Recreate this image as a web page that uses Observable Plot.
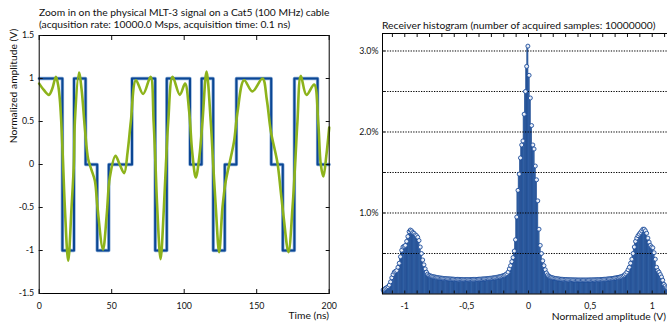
<!DOCTYPE html>
<html><head><meta charset="utf-8">
<script src="https://cdn.jsdelivr.net/npm/d3@7"></script>
<script src="https://cdn.jsdelivr.net/npm/@observablehq/plot@0.6"></script>
<style>
html,body{margin:0;padding:0;background:#fff;}
#wrap{position:relative;width:667px;height:323px;overflow:hidden;font-family:Lato,"Open Sans",sans-serif;color:#111;}
#wrap svg{position:absolute;top:0;overflow:visible;}
.t{position:absolute;font-size:10.3px;white-space:nowrap;line-height:12px;}
</style></head><body><div id="wrap"></div>
<script>
// ---------- left chart data ----------
const bitTimes  = [0,16,24,32,40,48,64,80,88,104,112,120,128,136,160,168,176,192,200];
const bitLevels = [1,-1,1,0,-1,0,1,-1,1,0,1,-1,0,1,0,-1,1,0,0];
const rxTime = [0,3,6.7,9,11.5,13,14.2,15.2,16.5,17.7,20,22.3,23.9,24.6,27.4,29.2,31.5,33.8,36,38.4,40.2,44,46.5,48.7,52.6,55.5,58.6,61,63.2,66.7,71.7,76.8,78.9,80.2,81.4,83.7,86,87.4,89,92,97,100.6,103.4,105.5,108,110.5,112.6,115.4,118.3,120,121.8,124.1,126.4,128.7,132.1,134.4,136.7,141.3,147,154,157,159.7,164.3,166.5,168.5,171.9,174.7,176.5,178.1,180.4,184.3,189.6,192.4,194.2,196,198,200];
const rxAmp  = [0.94,0.87,0.81,0.88,1.02,0.93,0.76,0.5,0,-0.5,-1.12,-0.5,0,0.5,1.07,0.88,0.42,0.06,-0.06,-0.19,-0.5,-0.99,-0.6,-0.15,0.10,0.0,-0.10,0.15,0.5,0.98,0.82,1.02,0.5,0,-0.5,-1.10,-0.5,0,0.5,1.02,0.81,0.94,0.62,0.15,-0.15,0.1,0.5,1.08,0.5,0,-0.5,-1.02,-0.5,-0.19,0.08,0.27,0.6,0.98,0.85,1.0,0.75,0.39,0.02,-0.3,-0.6,-1.02,-0.5,0,0.5,1.03,0.81,0.93,0.5,0,-0.14,0.1,0.43];
const timeTicks = [0,50,100,150,200];
const ampTicks = [-1.5,-1,-0.5,0,0.5,1,1.5];

// ---------- right chart data ----------
const histStart = -1.175, histBinWidth = 0.01;
const histPercent = [
 0.05,0.06,0.07,0.08,0.09,0.11,0.15,0.20,0.24,0.27,0.28,0.29,0.33,0.38,0.46,0.54,0.58,0.59,0.60,0.65,
 0.71,0.77,0.79,0.78,0.76,0.75,0.73,0.72,0.70,0.66,0.58,0.50,0.42,0.36,0.31,0.27,0.245,0.23,0.225,0.22,
 0.215,0.212,0.21,
 0.205,0.203,0.2,0.198,0.196,0.194,0.192,0.19,0.189,0.188,
 0.187,0.186,0.185,0.184,0.183,0.182,0.181,0.181,0.18,0.18,
 0.179,0.179,0.178,0.178,0.178,0.178,0.178,0.178,0.179,0.179,
 0.18,0.18,0.181,0.181,0.182,0.183,0.184,0.185,0.186,0.187,
 0.188,0.19,0.191,0.193,0.195,0.197,0.199,0.201,0.204,0.207,
 0.21,0.213,0.217,0.221,0.226,0.232,0.24,0.25,
 0.27,0.31,0.35,0.40,0.45,0.53,0.67,0.95,1.28,1.48,1.68,1.84,1.89,2.22,2.50,2.81,3.06,
 2.70,2.42,2.08,1.84,1.79,1.58,1.41,1.15,0.80,0.60,0.50,0.41,0.35,0.30,0.26,0.235,0.22,0.21,0.205,0.2,
 0.196,0.193,0.19,0.188,0.186,0.184,0.182,0.181,0.18,0.179,
 0.178,0.177,0.176,0.176,0.175,0.175,0.174,0.174,0.174,0.173,
 0.173,0.173,0.173,0.173,0.173,0.173,0.173,0.173,0.173,0.174,
 0.174,0.174,0.175,0.175,0.176,0.176,0.177,0.178,0.179,0.18,
 0.181,0.182,0.183,0.185,0.186,0.188,0.19,0.192,0.194,0.196,
 0.199,0.202,0.205,0.208,0.212,
 0.217,0.225,0.235,0.25,0.27,0.30,0.33,0.38,0.43,0.50,
 0.58,0.65,0.69,0.72,0.74,0.76,0.78,0.80,0.80,0.78,
 0.75,0.69,0.64,0.60,0.58,0.57,0.51,0.43,0.33,0.29,
 0.27,0.24,0.21,0.17,0.12,0.10,0.08,0.07,0.06,0.05,
 0.05,0.04,0.04];
const histXTicks = [-1,-0.5,0,0.5,1];
const histMinorTicks = [-1.1,-1,-0.9,-0.8,-0.7,-0.6,-0.5,-0.4,-0.3,-0.2,-0.1,0,0.1,0.2,0.3,0.4,0.5,0.6,0.7,0.8,0.9,1,1.1];
const histGrid = [0.5,1,1.5,2,2.5,3];

// ---------- build ----------
const wrap = document.getElementById("wrap");
const font = 'Lato, "Open Sans", sans-serif';
const blue = "#0b4694", green = "#8db31b";

const bits = bitTimes.map((t,i)=>({t, v: bitLevels[i]}));
const rx = rxTime.map((t,i)=>({t, v: rxAmp[i]}));
const fmtL = d => String(d);

const left = Plot.plot({
  width: 340, height: 323,
  marginLeft: 38.7, marginRight: 11.3, marginTop: 35, marginBottom: 30,
  style: {fontFamily: font, fontSize: "8.8px", color: "#111", background: "transparent"},
  x: {domain: [0,200]},
  y: {domain: [-1.5,1.5]},
  marks: [
    Plot.line(bits, {x:"t", y:"v", curve:"step-after", stroke:"#8fb0d8", strokeWidth:3.4}),
    Plot.line(bits, {x:"t", y:"v", curve:"step-after", stroke:blue, strokeWidth:2}),
    Plot.line(rx, {x:"t", y:"v", curve:"catmull-rom", stroke:green, strokeWidth:2.6}),
    Plot.frame({stroke:"#000", strokeWidth:1}),
    Plot.axisX(timeTicks, {anchor:"bottom", tickSize:0, tickPadding:9, tickFormat: fmtL, label:null}),
    Plot.axisX(timeTicks, {anchor:"bottom", tickSize:-4, tickFormat: () => "", label:null}),
    Plot.axisX(timeTicks, {anchor:"top", tickSize:-4, tickFormat: () => "", label:null}),
    Plot.axisY(ampTicks, {anchor:"left", tickSize:0, tickPadding:5, tickFormat: fmtL, label:null}),
    Plot.axisY(ampTicks, {anchor:"left", tickSize:-4, tickFormat: () => "", label:null}),
    Plot.axisY(ampTicks, {anchor:"right", tickSize:-4, tickFormat: () => "", label:null})
  ]
});
left.style.left = "0px";
wrap.appendChild(left);

const hist = histPercent.map((p,i)=>({c: histStart + i*histBinWidth, p}));
const right = Plot.plot({
  width: 345, height: 323,
  marginLeft: 42, marginRight: 11, marginTop: 33, marginBottom: 29.5,
  style: {fontFamily: font, fontSize: "8.8px", color: "#111", background: "transparent"},
  x: {domain: [-1.18, 1.18]},
  y: {domain: [0, 3.216]},
  marks: [
    Plot.rectY(hist, {x1: d => d.c - histBinWidth/2, x2: d => d.c + histBinWidth/2, y: "p", fill:"#3d6cae", stroke:"#0e3d86", strokeWidth:0.5}),
    Plot.ruleY(histGrid, {stroke:"#000", strokeWidth:1, strokeDasharray:"1.3,1.3"}),
    Plot.dot(hist, {x:"c", y:"p", r:2, stroke:"#1c4c9a", fill:"#e8eef8", strokeWidth:0.9}),
    Plot.frame({stroke:"#000", strokeWidth:1}),
    Plot.axisX(histXTicks, {anchor:"bottom", tickSize:0, tickPadding:9, tickFormat: d => String(d).replace(".", ","), label:null}),
    Plot.axisX(histMinorTicks, {anchor:"bottom", tickSize:-3, tickFormat: () => "", label:null}),
    Plot.axisX(histMinorTicks, {anchor:"top", tickSize:-3, tickFormat: () => "", label:null}),
    Plot.axisY(histGrid, {anchor:"left", tickSize:0, tickPadding:4, tickFormat: d => Number.isInteger(d) ? d.toFixed(1) + "%" : "", label:null}),
    Plot.axisY(histGrid, {anchor:"left", tickSize:-3, tickFormat: () => "", label:null})
  ]
});
right.style.left = "340px";
wrap.appendChild(right);

function addText(txt, css) {
  const d = document.createElement("div");
  d.className = "t";
  d.textContent = txt;
  Object.assign(d.style, css);
  wrap.appendChild(d);
  return d;
}
addText("Zoom in on the physical MLT-3 signal on a Cat5 (100 MHz) cable", {left:"39px", top:"6px"});
addText("(acqusition rate: 10000.0 Msps, acquisition time: 0.1 ns)", {left:"39px", top:"18px"});
addText("Receiver histogram (number of acquired samples: 10000000)", {left:"382px", top:"19px"});
addText("Time (ns)", {right:(667-329)+"px", top:"309px"});
addText("Normalized amplitude (V)", {right:"1px", top:"310px"});
addText("Normalized amplitude (V)", {left:"13px", top:"86px", transform:"translate(-50%,-50%) rotate(-90deg)"});
</script></body></html>
